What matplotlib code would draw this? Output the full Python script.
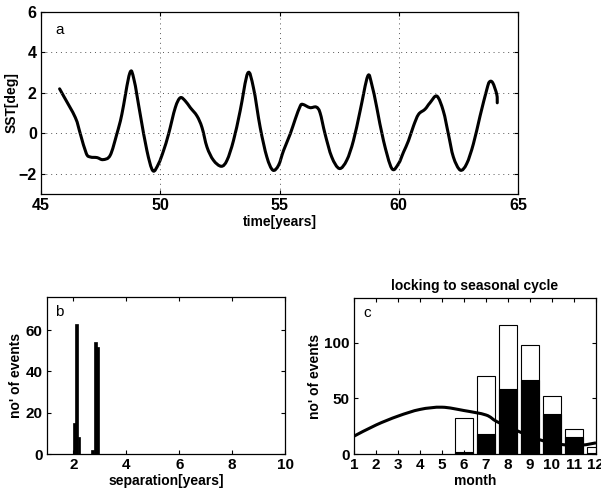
import matplotlib
matplotlib.use("Agg")
import matplotlib.pyplot as plt
from matplotlib.path import Path
from matplotlib.patches import PathPatch
import numpy as np

plt.rcParams['font.family'] = ['Liberation Sans', 'DejaVu Sans']

# Panel a: SST time series
time_years = [45.78, 45.95, 46.44, 46.65, 46.9, 47.07, 47.35, 47.6, 47.9, 48.18, 48.39, 48.72,
              48.9, 49.16, 49.44, 49.69, 49.93, 50.14, 50.35, 50.63, 50.84, 51.05, 51.26, 51.54,
              51.75, 51.96, 52.23, 52.56, 52.8, 53.07, 53.35, 53.67, 53.91, 54.19, 54.47, 54.72,
              54.96, 55.17, 55.45, 55.66, 55.87, 55.98, 56.28, 56.54, 56.7, 56.91, 57.19, 57.51,
              57.82, 58.1, 58.38, 58.7, 58.87, 59.08, 59.36, 59.71, 59.99, 60.2, 60.41, 60.62,
              60.83, 61.1, 61.31, 61.6, 61.87, 62.08, 62.29, 62.58, 62.85, 63.13, 63.41, 63.69,
              63.8, 63.94, 64.11, 64.13]
sst = [2.2, 1.84, 0.78, -0.03, -1.0, -1.17, -1.2, -1.3, -1.09, -0.03, 0.94, 2.97,
       2.65, 0.94, -0.85, -1.85, -1.5, -0.85, -0.03, 1.27, 1.76, 1.6, 1.27, 0.86,
       0.29, -0.68, -1.33, -1.63, -1.33, -0.36, 1.11, 2.98, 2.24, 0.29, -1.17, -1.82,
       -1.58, -0.85, -0.03, 0.7, 1.35, 1.43, 1.27, 1.3, 1.02, -0.03, -1.17, -1.74,
       -1.33, -0.36, 1.11, 2.83, 2.41, 1.27, -0.36, -1.74, -1.5, -0.93, -0.36, 0.37,
       0.94, 1.19, 1.51, 1.84, 1.1, -0.03, -1.17, -1.82, -1.5, -0.52, 0.86, 2.16,
       2.54, 2.5, 1.92, 1.51]

# Panel b: separation histogram
separation = [2.04, 2.125, 2.21, 2.73, 2.82, 2.9]
sep_counts = [15, 63, 8, 2, 54, 52]

# Panel c: seasonal locking
months = [6, 7, 8, 9, 10, 11, 12]
total_events = [32, 70, 116, 98, 52, 22, 6]
strong_events = [2, 18, 58, 66, 36, 15, 1]
curve_month = [1, 2, 3, 4, 5, 6, 7, 7.5, 8.4, 9.4, 10.45, 11.35, 12]
curve_value = [16, 26, 34, 40, 42, 39, 35, 29, 21, 13, 8.5, 8, 10]

W, H = 601, 498
fig = plt.figure(figsize=(W / 100, H / 100), dpi=100)


def box(l, t, r, b):
    return [l / W, 1 - b / H, (r - l) / W, (b - t) / H]


def smooth_line(ax, xs, ys, **kw):
    """Draw a smooth curve through the points (Catmull-Rom rendered as Bezier path)."""
    p = np.column_stack([xs, ys]).astype(float)
    verts = [p[0]]
    codes = [Path.MOVETO]
    n = len(p)
    for i in range(n - 1):
        p0 = p[i - 1] if i > 0 else p[i]
        p1, p2 = p[i], p[i + 1]
        p3 = p[i + 2] if i + 2 < n else p[i + 1]
        c1 = p1 + (p2 - p0) / 6.0
        c2 = p2 - (p3 - p1) / 6.0
        verts += [c1, c2, p2]
        codes += [Path.CURVE4] * 3
    patch = PathPatch(Path(verts, codes), fill=False, **kw)
    ax.add_patch(patch)


def style(ax, size=11):
    ax.tick_params(direction='in', top=True, right=True, length=3, width=0.8,
                   labelsize=size, pad=3)
    for lab in ax.get_xticklabels() + ax.get_yticklabels():
        lab.set_fontweight('bold')
    for s in ax.spines.values():
        s.set_linewidth(0.9)


# Panel a
axa = fig.add_axes(box(41, 12, 518, 194))
smooth_line(axa, time_years, sst, edgecolor='black', lw=2.2, capstyle='round', joinstyle='round')
axa.set_xlim(45, 65)
axa.set_ylim(-3, 6)
axa.set_xticks([45, 50, 55, 60, 65])
axa.set_yticks([-2, 0, 2, 4, 6])
axa.grid(True, linestyle=(0, (1, 4)), color='#555555', linewidth=0.7)
axa.set_xlabel('time[years]', fontsize=10, fontweight='bold', labelpad=1)
axa.set_ylabel('SST[deg]', fontsize=10, fontweight='bold', labelpad=0)
axa.text(0.03, 0.88, 'a', transform=axa.transAxes, fontsize=11)
style(axa, 11.5)

# Panel b
axb = fig.add_axes(box(47, 297, 285, 454))
axb.bar(separation, sep_counts, width=0.11, color='black', edgecolor='black', linewidth=0.5)
axb.set_xlim(1, 10)
axb.set_ylim(0, 76)
axb.set_xticks([2, 4, 6, 8, 10])
axb.set_yticks([0, 20, 40, 60])
axb.set_xlabel('separation[years]', fontsize=10, fontweight='bold', labelpad=1)
axb.set_ylabel("no' of events", fontsize=10, fontweight='bold', labelpad=2)
axb.text(0.035, 0.88, 'b', transform=axb.transAxes, fontsize=11)
style(axb, 11)

# Panel c
axc = fig.add_axes(box(354, 298, 596, 454))
axc.bar(months, total_events, width=0.8, color='white', edgecolor='black', linewidth=0.8)
axc.bar(months, strong_events, width=0.8, color='black', edgecolor='black', linewidth=0.8)
smooth_line(axc, curve_month, curve_value, edgecolor='black', lw=2.2)
axc.set_xlim(1, 12)
axc.set_ylim(0, 140)
axc.set_xticks(range(1, 13))
axc.set_yticks([0, 50, 100])
axc.set_xlabel('month', fontsize=10, fontweight='bold', labelpad=1)
axc.set_ylabel("no' of events", fontsize=10, fontweight='bold', labelpad=2)
axc.set_title('locking to seasonal cycle', fontsize=10, fontweight='bold', pad=6)
axc.text(0.04, 0.88, 'c', transform=axc.transAxes, fontsize=11)
style(axc, 11)

fig.savefig('out.png', dpi=100)
